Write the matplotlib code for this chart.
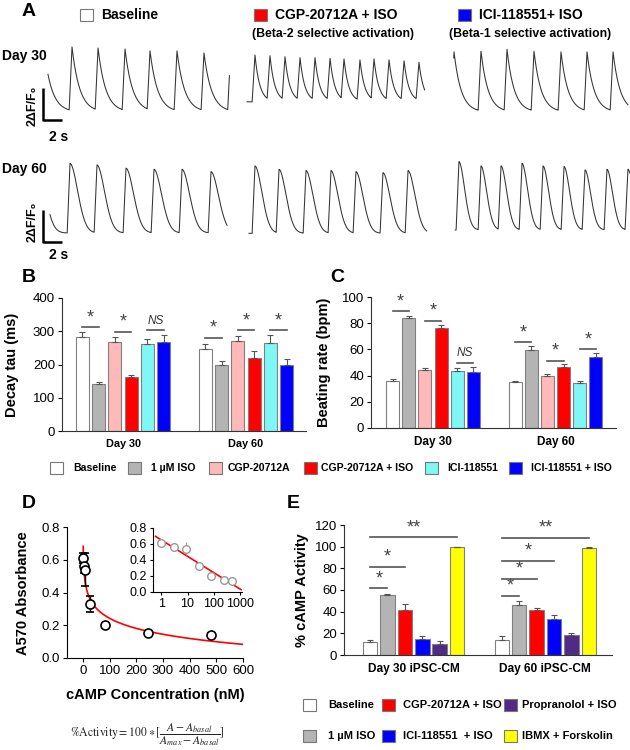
import numpy as np
import matplotlib
matplotlib.use('Agg')
import matplotlib.pyplot as plt
from matplotlib.patches import Rectangle

plt.rcParams['font.family'] = ['Liberation Sans', 'DejaVu Sans']
plt.rcParams['axes.linewidth'] = 0.8

# ---------------- Panel A data: calcium transients (time s, dF/F0) ----------------
trace_labels = ['Baseline', 'CGP-20712A + ISO', 'ICI-118551+ ISO']
trace_colors = ['#ffffff', '#ff0000', '#0000ff']
trace_notes = ['', '(Beta-2 selective activation)', '(Beta-1 selective activation)']
row_labels = ['Day 30', 'Day 60']

d30_t_start = [0.84, 21.8, 43.55]
d30_t_end = [19.95, 40.5, 61.9]
d30_floor = [0.8, 1.45, 0.8]
d30_tau = [0.8, 0.5, 0.75]
d30_peak_t = [[0.4, 3.37, 6.11, 8.95, 11.58, 14.42, 17.26, 20.06],
              [22.63, 24.21, 25.79, 27.37, 28.95, 30.53, 32.0, 33.68, 35.16, 36.74, 38.32, 39.89],
              [43.58, 46.42, 49.16, 52.0, 54.84, 57.58, 60.32]]
d30_peak_v = [[4.9, 4.88, 4.81, 4.75, 4.63, 4.63, 4.5, 4.5],
              [4.37, 4.33, 4.27, 4.21, 4.21, 4.17, 4.13, 4.07, 4.13, 4.07, 4.01, 3.92],
              [4.57, 4.61, 4.73, 4.61, 4.57, 4.57, 4.57]]

d60_t_start = [1.05, 22.0, 43.7]
d60_t_end = [19.7, 40.7, 62.1]
d60_floor = [0.75, 0.73, 0.94]
d60_tau = [1.15, 1.05, 0.85]
d60_peak_t = [[-0.25, 3.16, 6.0, 9.05, 12.0, 14.95, 18.0],
              [22.63, 25.16, 28.0, 30.63, 33.26, 36.1, 38.74],
              [44.1, 46.42, 48.53, 50.74, 52.95, 55.16, 57.37, 59.68, 61.89]]
d60_peak_v = [[4.8, 5.1, 5.0, 4.8, 4.73, 4.73, 4.58],
              [4.94, 4.73, 4.65, 4.65, 4.58, 4.52, 4.65],
              [5.21, 4.94, 4.94, 5.1, 4.94, 4.9, 4.69, 4.73, 4.73]]
d30_power = 1.0
d60_power = 1.9

# ---------------- Panels B / C data ----------------
groups_bc = ['Day 30', 'Day 60']
treat6 = ['Baseline', '1 \u00b5M ISO', 'CGP-20712A', 'CGP-20712A + ISO', 'ICI-118551', 'ICI-118551 + ISO']
colors6 = ['#ffffff', '#b4b4b4', '#ffb9b9', '#ff0000', '#7ff7f7', '#0000ff']
decay_tau = [[283, 140, 268, 162, 263, 268], [248, 198, 272, 221, 265, 197]]
decay_err = [[14, 7, 14, 7, 15, 21], [14, 13, 15, 19, 25, 19]]
beat_rate = [[36, 84, 44.3, 76, 43.8, 42.5], [35.2, 59.5, 39.5, 46.8, 34.2, 54.4]]
beat_err = [[1.5, 1.8, 1.3, 3, 1.8, 3.8], [0.3, 2.8, 1.5, 1.8, 2.0, 2.8]]
# significance: (group, bar i, bar j, line level, label)
sig_b = [(0, 0, 1, 312, '*'), (0, 2, 3, 298, '*'), (0, 4, 5, 303, 'NS'),
         (1, 0, 1, 281, '*'), (1, 2, 3, 303, '*'), (1, 4, 5, 303, '*')]
sig_c = [(0, 0, 1, 89, '*'), (0, 2, 3, 81.8, '*'), (0, 4, 5, 49.9, 'NS'),
         (1, 0, 1, 65.3, '*'), (1, 2, 3, 51, '*'), (1, 4, 5, 60, '*')]

# ---------------- Panel D data ----------------
camp_conc = [1, 3, 9, 27, 81, 243, 480]
a570 = [0.61, 0.56, 0.54, 0.33, 0.20, 0.155, 0.14]
a570_err = [0.03, 0.04, 0.10, 0.05, 0.01, 0.01, 0.01]
fit_intercept = 0.65
fit_slope = -0.204   # per decade of concentration

# ---------------- Panel E data ----------------
groups_e = ['Day 30 iPSC-CM', 'Day 60 iPSC-CM']
treat_e = ['Baseline', '1 \u00b5M ISO', 'CGP-20712A + ISO', 'ICI-118551  + ISO', 'Propranolol + ISO', 'IBMX + Forskolin']
colors_e = ['#ffffff', '#b4b4b4', '#ff0000', '#0000ff', '#502a85', '#ffff00']
camp_act = [[12.1, 55.5, 41.2, 15.2, 10.3, 99.4], [14.2, 46, 41.2, 33, 18.2, 98.8]]
camp_err = [[1.8, 0.5, 6, 2.4, 2.4, 0.6], [3.7, 3.4, 2.1, 4.3, 2.4, 0.6]]
sig_e = [(0, 0, 1, 61.5, '*'), (0, 0, 2, 81.2, '*'), (0, 0, 5, 108.5, '**'),
         (1, 0, 1, 54.8, '*'), (1, 0, 2, 70, '*'), (1, 0, 3, 86.7, '*'), (1, 0, 5, 107.9, '**')]

# ---------------- helpers ----------------
W, H = 630, 750
fig = plt.figure(figsize=(W / 100, H / 100), dpi=100)


def add_ax(l, t, r, b):
    return fig.add_axes([l / W, 1 - b / H, (r - l) / W, (b - t) / H])


def ftext(x, y, s, **kw):
    fig.text(x / W, 1 - y / H, s, **kw)


def fbox(x, y, color, w=13, h=12):
    fig.patches.append(Rectangle((x / W, 1 - (y + h) / H), w / W, h / H, transform=fig.transFigure,
                                 facecolor=color, edgecolor='#777777', lw=0.8))


def transient(t0, t1, floor, tau, power, peak_t, peak_v, rise=0.3, dt=0.01):
    t = np.arange(t0, t1, dt)
    pt = np.asarray(peak_t, float)
    pv = np.asarray(peak_v, float)

    def decay(x):
        k = np.searchsorted(pt, x, side='right') - 1
        if k < 0:
            return floor
        return floor + (pv[k] - floor) * np.exp(-((x - pt[k]) / tau) ** power)

    y = np.empty_like(t)
    for n, x in enumerate(t):
        k = np.searchsorted(pt, x, side='left')
        if k < len(pt) and pt[k] - rise < x:
            s = pt[k] - rise
            ds = decay(s)
            y[n] = ds + (pv[k] - ds) * (x - s) / rise
        else:
            y[n] = decay(x)
    return t, y


# ---------------- Panel A ----------------
PXS = 9.5   # px per second
PXU = 16.0  # px per dF/F0 unit
rows = [(38, 125, 0.31, d30_t_start, d30_t_end, d30_floor, d30_tau, d30_power, d30_peak_t, d30_peak_v),
        (150, 245, 0.19, d60_t_start, d60_t_end, d60_floor, d60_tau, d60_power, d60_peak_t, d60_peak_v)]
for (top, bot, sb_y, ts, te, fl, ta, pw, ptk, pvk) in rows:
    ax = add_ax(40, top, 630, bot)
    ax.set_xlim(0, 590 / PXS)
    ax.set_ylim(0, (bot - top) / PXU)
    ax.axis('off')
    for k in range(3):
        t, y = transient(ts[k], te[k], fl[k], ta[k], pw, ptk[k], pvk[k])
        ax.plot(t, y, color='#333333', lw=0.75)
    sb_x = 0.32
    ax.plot([sb_x, sb_x, sb_x + 2], [sb_y + 2, sb_y, sb_y], color='black', lw=1.8, solid_capstyle='butt')

ftext(22, 12, 'A', fontsize=14, fontweight='bold', va='center')
for k, lx in enumerate([80, 254, 458]):
    fbox(lx, 9, trace_colors[k])
    ftext(lx + 21, 15, trace_labels[k], fontsize=10, fontweight='bold', va='center')
ftext(333, 34, trace_notes[1], fontsize=8.8, fontweight='bold', va='center', ha='center')
ftext(530, 34, trace_notes[2], fontsize=8.8, fontweight='bold', va='center', ha='center')
ftext(2, 56, row_labels[0], fontsize=10, fontweight='bold', va='center')
ftext(2, 169, row_labels[1], fontsize=10, fontweight='bold', va='center')
for yc, ys in [(106, 137), (222, 255)]:
    ftext(33, yc, '2\u0394F/F\u2080', fontsize=9, fontweight='bold', rotation=90, ha='center', va='center')
    ftext(59, ys, '2 s', fontsize=10, fontweight='bold', ha='center', va='center')


# ---------------- bar chart helper ----------------
def bar_panel(ax, vals, errs, colors, width, spacing, sigs, star_off=7):
    n = len(colors)
    positions = []
    for g in range(len(vals)):
        xs = g + (np.arange(n) - (n - 1) / 2) * spacing
        positions.append(xs)
        ax.bar(xs, vals[g], width=width, color=colors, edgecolor='#808080', lw=0.8, zorder=2)
        ax.errorbar(xs, vals[g], yerr=[np.zeros(n), errs[g]], fmt='none', ecolor='#555555',
                    elinewidth=0.8, capsize=2.5, capthick=0.8, zorder=3)
    for (g, i, j, yv, lab) in sigs:
        xs = positions[g]
        ax.plot([xs[i], xs[j]], [yv, yv], color='#555555', lw=1.2, zorder=3)
        if lab == 'NS':
            ax.annotate(lab, ((xs[i] + xs[j]) / 2, yv), xytext=(0, 7), textcoords='offset points',
                        ha='center', va='center', fontsize=8.5, style='italic', color='#333333')
        else:
            ax.annotate(lab, ((xs[i] + xs[j]) / 2, yv), xytext=(0, star_off), textcoords='offset points',
                        ha='center', va='center', fontsize=13, color='#444444')
    for s in ['top', 'right']:
        ax.spines[s].set_visible(False)
    for s in ['left', 'bottom']:
        ax.spines[s].set_color('#333333')
    ax.tick_params(axis='y', labelsize=9.5, length=3, width=0.8, pad=2)
    ax.tick_params(axis='x', length=0, pad=6)
    return positions


# ---------------- Panel B ----------------
axB = add_ax(62, 298, 306, 431)
bar_panel(axB, decay_tau, decay_err, colors6, 0.106, 0.132, sig_b)
axB.set_ylim(0, 400)
axB.set_yticks([0, 100, 200, 300, 400])
axB.set_xlim(-0.496, 1.488)
axB.set_xticks([0, 1])
axB.set_xticklabels(groups_bc, fontsize=7.8, fontweight='bold')
ftext(22, 278, 'B', fontsize=14, fontweight='bold', va='center')
ftext(12, 365, 'Decay tau (ms)', fontsize=10.5, fontweight='bold', rotation=90, ha='center', va='center')

# ---------------- Panel C ----------------
axC = add_ax(371, 297, 616, 428)
bar_panel(axC, beat_rate, beat_err, colors6, 0.106, 0.132, sig_c)
axC.set_ylim(0, 100)
axC.set_yticks([0, 20, 40, 60, 80, 100])
axC.set_xlim(-0.506, 1.494)
axC.set_xticks([0, 1])
axC.set_xticklabels(groups_bc, fontsize=8.5, fontweight='bold')
ftext(330, 278, 'C', fontsize=14, fontweight='bold', va='center')
ftext(324, 362, 'Beating rate (bpm)', fontsize=10.5, fontweight='bold', rotation=90, ha='center', va='center')

# legend for B/C
leg_x = [50, 128, 209, 304, 425, 509]
leg_tx = [73, 151, 228, 321, 447, 531]
for k in range(6):
    fbox(leg_x[k], 462, colors6[k])
    ftext(leg_tx[k], 468, treat6[k], fontsize=7.6, fontweight='bold', va='center')

# ---------------- Panel D ----------------
axD = add_ax(67, 527, 243, 658)
xf = np.logspace(np.log10(0.7), np.log10(600), 300)
axD.plot(xf, fit_intercept + fit_slope * np.log10(xf), color='#ff0000', lw=1.2, zorder=2)
axD.errorbar(camp_conc, a570, yerr=a570_err, fmt='o', mfc='white', mec='black', ms=6.5, mew=1.2,
             ecolor='black', elinewidth=1.0, capsize=3, zorder=3)
axD.set_xlim(-60, 600)
axD.set_ylim(0, 0.8)
axD.set_xticks(range(0, 601, 100))
axD.set_yticks([0, 0.2, 0.4, 0.6, 0.8])
axD.set_yticklabels(['0.0', '0.2', '0.4', '0.6', '0.8'])
for s in ['top', 'right']:
    axD.spines[s].set_visible(False)
axD.tick_params(labelsize=9.5, length=3, width=0.8, pad=2)
axD.set_xlabel('cAMP Concentration (nM)', fontsize=10.5, fontweight='bold', labelpad=8)
ftext(22, 504, 'D', fontsize=14, fontweight='bold', va='center')
ftext(23, 593, 'A570 Absorbance', fontsize=10.5, fontweight='bold', rotation=90, ha='center', va='center')

axI = add_ax(153, 528, 242, 592)
xi = np.logspace(np.log10(0.6), np.log10(1100), 200)
axI.plot(xi, fit_intercept + fit_slope * np.log10(xi), color='#ff0000', lw=1.2, zorder=2)
axI.errorbar(camp_conc, a570, yerr=[e * 0.8 for e in a570_err], fmt='o', mfc='white', mec='#999999', ms=5.5,
             mew=1.0, ecolor='#999999', elinewidth=0.8, capsize=0, zorder=3)
axI.set_xscale('log')
axI.set_xlim(0.48, 1200)
axI.set_ylim(0, 0.8)
axI.set_xticks([1, 10, 100, 1000])
axI.set_xticklabels(['1', '10', '100', '1000'])
axI.minorticks_off()
axI.set_yticks([0, 0.2, 0.4, 0.6, 0.8])
axI.set_yticklabels(['0.0', '0.2', '0.4', '0.6', '0.8'])
for s in ['top', 'right']:
    axI.spines[s].set_visible(False)
axI.tick_params(labelsize=9, length=2.5, width=0.8, pad=2)

ftext(147, 735, r'$\mathrm{\%Activity} = 100 \ast [\dfrac{A - A_{basal}}{A_{max} - A_{basal}}]$',
      fontsize=8.5, ha='center', va='center', math_fontfamily='stix', color='#222222')

# ---------------- Panel E ----------------
axE = add_ax(344, 525, 612, 655)
bar_panel(axE, camp_act, camp_err, colors_e, 0.11, 0.132, sig_e)
axE.set_ylim(0, 120)
axE.set_yticks(range(0, 121, 20))
axE.set_xlim(-0.528, 1.506)
axE.set_xticks([0, 1])
axE.set_xticklabels(groups_e, fontsize=8.6, fontweight='bold')
ftext(287, 504, 'E', fontsize=14, fontweight='bold', va='center')
ftext(302, 590, '% cAMP Activity', fontsize=10.5, fontweight='bold', rotation=90, ha='center', va='center')

leg_e_x = [303, 382, 504]
leg_e_tx = [328, 403, 522]
leg_e_y = [699, 730]
order_e = [[0, 2, 4], [1, 3, 5]]
for r in range(2):
    for c in range(3):
        k = order_e[r][c]
        fbox(leg_e_x[c], leg_e_y[r], colors_e[k])
        ftext(leg_e_tx[c], leg_e_y[r] + 6, treat_e[k], fontsize=8, fontweight='bold', va='center')

fig.savefig('out.png', dpi=100)
